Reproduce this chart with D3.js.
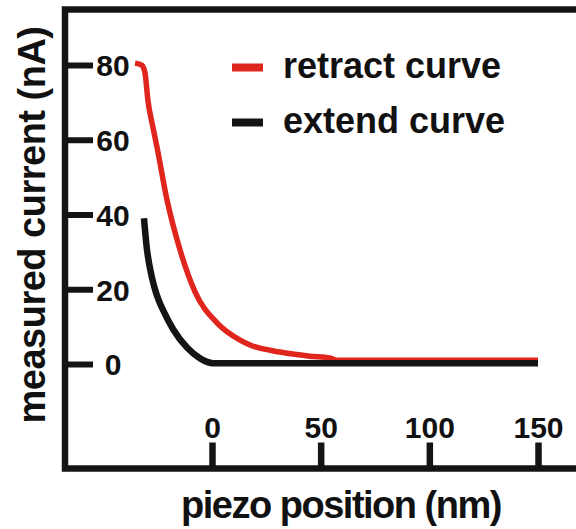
<!DOCTYPE html>
<html>
<head>
<meta charset="utf-8">
<script src="https://cdn.jsdelivr.net/npm/d3@7"></script>
<style>
  html, body { margin: 0; padding: 0; background: #fff; }
  svg { display: block; }
  text { font-family: "Liberation Sans", Arial, Helvetica, sans-serif; font-weight: bold; fill: #111; }
</style>
</head>
<body>
<svg id="chart" width="576" height="529"></svg>
<script>
// Piezo position (nm) vs measured current (nA)
const retractX = [-35.4, -32.2, -30.8, -29.5, -27.2, -25.3, -20.7, -14.7, -7.8, 2.3, 12.9, 17.5, 31.3, 45.1, 54.3, 57.5, 150];
const retractY = [80.5, 79.9, 77.8, 70.6, 63.4, 58.0, 43.9, 30.5, 19.3, 11.0, 6.4, 5.1, 3.2, 2.1, 1.6, 1.0, 1.0];

const extendX = [-31.3, -30.0, -28.5, -26.5, -24.5, -22.5, -17.9, -11.5, -5.5, 0.5, 150];
const extendY = [39.0, 31.0, 25.5, 20.5, 17.0, 14.4, 9.3, 4.4, 1.5, 0.2, 0.2];

const xTicks = [0, 50, 100, 150];
const yTicks = [0, 20, 40, 60, 80];

const seriesNames = ["retract curve", "extend curve"];
const seriesColors = ["#e0261c", "#141414"];

const svg = d3.select("#chart");

const frame = { left: 65, top: 9.5, bottom: 468.5, right: 600 };

const x = d3.scaleLinear().domain([0, 150]).range([212, 538]);
const y = d3.scaleLinear().domain([0, 80]).range([364, 65]);

// frame (left, top, bottom edges; right side runs off the canvas)
svg.append("path")
  .attr("d", `M${frame.right},${frame.top} H${frame.left} V${frame.bottom} H${frame.right}`)
  .attr("fill", "none")
  .attr("stroke", "#141414")
  .attr("stroke-width", 6.5);

// y axis: ticks point inward from the left edge
const yAxis = d3.axisRight(y).tickValues(yTicks).tickSize(28).tickPadding(20).tickFormat(d3.format("d"));
const gy = svg.append("g").attr("transform", `translate(${frame.left},0)`).call(yAxis);
gy.select(".domain").remove();
gy.selectAll(".tick line").attr("stroke", "#141414").attr("stroke-width", 6);
gy.selectAll(".tick text")
  .attr("x", 48).attr("dy", "0.36em")
  .attr("text-anchor", "middle")
  .style("font-size", "30px").style("font-weight", "bold")
  .style("font-family", "'Liberation Sans', Arial, sans-serif")
  .attr("fill", "#111");

// x axis: ticks point upward from the bottom edge
const xAxis = d3.axisTop(x).tickValues(xTicks).tickSize(26).tickPadding(5).tickFormat(d3.format("d"));
const gx = svg.append("g").attr("transform", `translate(0,${frame.bottom})`).call(xAxis);
gx.select(".domain").remove();
gx.selectAll(".tick line").attr("stroke", "#141414").attr("stroke-width", 6.5);
gx.selectAll(".tick text")
  .attr("y", -31).attr("dy", 0)
  .style("font-size", "30px").style("font-weight", "bold")
  .style("font-family", "'Liberation Sans', Arial, sans-serif")
  .attr("fill", "#111");

// curves
const line = d3.line().x(d => x(d[0])).y(d => y(d[1])).curve(d3.curveMonotoneX);
const retract = retractX.map((v, i) => [v, retractY[i]]);
const extend = extendX.map((v, i) => [v, extendY[i]]);

svg.append("path").datum(retract)
  .attr("d", line).attr("fill", "none")
  .attr("stroke", seriesColors[0]).attr("stroke-width", 5.5)
  .attr("stroke-linecap", "butt").attr("stroke-linejoin", "round");

svg.append("path").datum(extend)
  .attr("d", line).attr("fill", "none")
  .attr("stroke", seriesColors[1]).attr("stroke-width", 6.5)
  .attr("stroke-linejoin", "round");

// legend
const legend = svg.append("g");
seriesNames.forEach((name, i) => {
  const ly = 67.5 + i * 55;
  legend.append("line")
    .attr("x1", 232).attr("x2", 263).attr("y1", ly).attr("y2", ly)
    .attr("stroke", seriesColors[i]).attr("stroke-width", 8);
  legend.append("text")
    .attr("x", 283).attr("y", ly + 10.5)
    .style("font-size", "36px")
    .text(name);
});

// axis titles
svg.append("text")
  .attr("x", 341).attr("y", 518)
  .attr("text-anchor", "middle")
  .style("font-size", "38px")
  .style("letter-spacing", "-1.5px")
  .text("piezo position (nm)");

svg.append("text")
  .attr("transform", "translate(45,225) rotate(-90)")
  .attr("text-anchor", "middle")
  .style("font-size", "38px")
  .style("letter-spacing", "-0.5px")
  .text("measured current (nA)");
</script>
</body>
</html>
